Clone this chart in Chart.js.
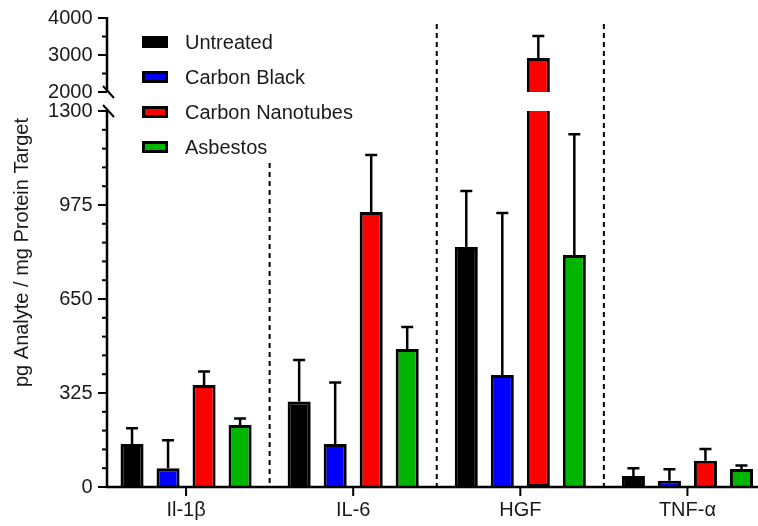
<!DOCTYPE html>
<html>
<head>
<meta charset="utf-8">
<script src="https://cdn.jsdelivr.net/npm/chart.js@4"></script>
<style>
  html, body { margin: 0; padding: 0; background: #fff; overflow: hidden; }
  #wrap { width: 771px; height: 526px; }
</style>
</head>
<body>
<div id="wrap"><canvas id="chart"></canvas></div>
<script>
const categories = ["Il-1\u03b2", "IL-6", "HGF", "TNF-\u03b1"];
const seriesNames = ["Untreated", "Carbon Black", "Carbon Nanotubes", "Asbestos"];

// means and upper SD
const untreated = [149, 296, 830, 38];
const untreatedErr = [54, 143, 193, 27];
const carbonBlack = [65, 149, 387, 22];
const carbonBlackErr = [97, 212, 560, 39];
const nanotubes = [353, 951, 2919, 91];
const nanotubesErr = [46, 197, 595, 40];
const asbestos = [214, 477, 802, 62];
const asbestosErr = [23, 76, 418, 12];

const lowTicks = [0, 325, 650, 975, 1300];
const highTicks = [2000, 3000, 4000];
const lowMinorStep = 65;
const highMinorStep = 500;

const lowMax = 1300, highMin = 2000, highMax = 4000;
const colors = ["#000000", "#0000ff", "#ff0000", "#00b400"];

// layout of the broken axis (px)
const highPx = 74, gapPx = 19, lowPx = 376;
const axisInset = 4.5; // y axis line sits a little right of the category band
const font = { family: "'Liberation Sans', Arial, sans-serif", size: 20 };
const tickFont = { family: font.family, size: 20, lineHeight: 0.8 };
const textColor = "#1a1a1a";

const seriesValues = [untreated, carbonBlack, nanotubes, asbestos];
const seriesErr = [untreatedErr, carbonBlackErr, nanotubesErr, asbestosErr];

const datasets = seriesValues.map((vals, d) => ({
  label: seriesNames[d],
  data: vals.map(v => Math.min(v, lowMax)),
  yAxisID: "yLow",
  stack: "s" + d,
  backgroundColor: colors[d],
  borderColor: "#000",
  borderWidth: 3,
  borderSkipped: vals.map(v => v > lowMax ? "top" : "start"),
}));
// upper piece of bars that run past the break
seriesValues.forEach((vals, d) => {
  if (!vals.some(v => v > lowMax)) return;
  datasets.push({
    label: seriesNames[d] + " (upper)",
    data: vals.map(v => v > lowMax ? [highMin, v] : null),
    yAxisID: "yHigh",
    stack: "s" + d,
    backgroundColor: colors[d],
    borderColor: "#000",
    borderWidth: 3,
    borderSkipped: "bottom",
  });
});

const separatorTop = [
  { axis: "yLow", value: 1120 },
  { axis: "yHigh", value: 3840 },
  { axis: "yHigh", value: 3840 },
];

const separators = {
  id: "separators",
  beforeDatasetsDraw(chart) {
    const { ctx, scales } = chart;
    const x = scales.x;
    ctx.save();
    ctx.strokeStyle = "#000";
    ctx.lineWidth = 2;
    ctx.setLineDash([5, 4]);
    for (let i = 0; i < categories.length - 1; i++) {
      const px = (x.getPixelForValue(i) + x.getPixelForValue(i + 1)) / 2;
      const t = separatorTop[i];
      ctx.beginPath();
      ctx.moveTo(px, scales[t.axis].getPixelForValue(t.value));
      ctx.lineTo(px, scales.yLow.getPixelForValue(0));
      ctx.stroke();
    }
    ctx.restore();
  }
};

const errorBars = {
  id: "errorBars",
  afterDatasetsDraw(chart) {
    const { ctx, scales } = chart;
    ctx.save();
    ctx.strokeStyle = "#000";
    ctx.lineWidth = 2.5;
    seriesValues.forEach((vals, d) => {
      const meta = chart.getDatasetMeta(d);
      vals.forEach((v, i) => {
        const s = v > lowMax ? scales.yHigh : scales.yLow;
        const x = meta.data[i].x;
        const y0 = s.getPixelForValue(v);
        const y1 = s.getPixelForValue(v + seriesErr[d][i]);
        ctx.beginPath();
        ctx.moveTo(x, y0);
        ctx.lineTo(x, y1);
        ctx.moveTo(x - 6, y1);
        ctx.lineTo(x + 6, y1);
        ctx.stroke();
      });
    });
    ctx.restore();
  }
};

const axes = {
  id: "axes",
  afterDraw(chart) {
    const { ctx, scales, chartArea } = chart;
    const lo = scales.yLow, hi = scales.yHigh, x = scales.x;
    const ax = chartArea.left + axisInset;
    const base = lo.getPixelForValue(0);
    ctx.save();
    ctx.strokeStyle = "#000";
    ctx.lineCap = "butt";

    // axis lines
    ctx.lineWidth = 2.5;
    ctx.beginPath();
    ctx.moveTo(ax, hi.getPixelForValue(highMax) - 1);
    ctx.lineTo(ax, hi.getPixelForValue(highMin));
    ctx.moveTo(ax, lo.getPixelForValue(lowMax));
    ctx.lineTo(ax, base);
    ctx.moveTo(ax - 1, base);
    ctx.lineTo(chartArea.right, base);
    ctx.stroke();

    // break marks
    ctx.lineWidth = 2;
    [hi.getPixelForValue(highMin), lo.getPixelForValue(lowMax)].forEach(py => {
      ctx.beginPath();
      ctx.moveTo(ax - 4, py - 6);
      ctx.lineTo(ax + 7, py + 6);
      ctx.stroke();
    });

    // y ticks
    const tick = (s, v, len) => {
      const py = s.getPixelForValue(v);
      ctx.beginPath();
      ctx.moveTo(ax - len, py);
      ctx.lineTo(ax, py);
      ctx.stroke();
    };
    for (let v = 0; v <= lowMax; v += lowMinorStep) {
      tick(lo, v, lowTicks.includes(v) ? 9 : 5);
    }
    for (let v = highMin; v <= highMax; v += highMinorStep) {
      tick(hi, v, highTicks.includes(v) ? 9 : 5);
    }

    // x ticks
    categories.forEach((c, i) => {
      const px = x.getPixelForValue(i);
      ctx.beginPath();
      ctx.moveTo(px, base);
      ctx.lineTo(px, base + 9);
      ctx.stroke();
    });

    // y title
    ctx.fillStyle = textColor;
    ctx.font = font.size + "px " + font.family;
    ctx.textAlign = "center";
    ctx.textBaseline = "middle";
    ctx.translate(22, (chartArea.top + chartArea.bottom) / 2);
    ctx.rotate(-Math.PI / 2);
    ctx.fillText("pg Analyte / mg Protein Target", 0, 0);
    ctx.restore();
  }
};

const legendBoxes = {
  id: "legendBoxes",
  afterDraw(chart) {
    const { ctx, chartArea } = chart;
    const bx = chartArea.left + axisInset + 35;
    ctx.save();
    ctx.font = font.size + "px " + font.family;
    ctx.textBaseline = "middle";
    ctx.textAlign = "left";
    seriesNames.forEach((name, d) => {
      const cy = chartArea.top + 24 + d * 35;
      ctx.fillStyle = "#000";
      ctx.fillRect(bx, cy - 6, 26, 12);
      ctx.fillStyle = colors[d];
      ctx.fillRect(bx + 3, cy - 3, 20, 6);
      ctx.fillStyle = textColor;
      ctx.fillText(name, bx + 43, cy + 1);
    });
    ctx.restore();
  }
};

const yCommon = {
  type: "linear",
  position: "left",
  stack: "y",
  stacked: false,
  grid: { display: false, drawTicks: false },
  border: { display: false },
  ticks: { padding: 10, font: tickFont, color: textColor, autoSkip: false, callback: v => String(v) },
  afterFit: s => { s.width = 102.5; },
};

new Chart(document.getElementById("chart"), {
  type: "bar",
  data: { labels: categories, datasets: datasets },
  options: {
    responsive: true,
    maintainAspectRatio: false,
    animation: false,
    categoryPercentage: 0.862,
    barPercentage: 0.64,
    layout: { padding: { top: 10, left: 0, right: 0, bottom: 0 } },
    plugins: { legend: { display: false }, tooltip: { enabled: false } },
    scales: {
      x: {
        type: "category",
        offset: true,
        grid: { display: false, drawTicks: false },
        border: { display: false },
        ticks: { padding: 11, font: font, color: textColor, maxRotation: 0 },
        afterFit: s => { s.height = 39; },
      },
      yLow: Object.assign({}, yCommon, {
        stackWeight: lowPx,
        min: 0,
        max: lowMax,
        afterBuildTicks: s => { s.ticks = lowTicks.map(v => ({ value: v })); },
      }),
      yHigh: Object.assign({}, yCommon, {
        stackWeight: highPx + gapPx,
        min: highMin - (highMax - highMin) * gapPx / highPx,
        max: highMax,
        afterBuildTicks: s => { s.ticks = highTicks.map(v => ({ value: v })); },
      }),
    },
  },
  plugins: [separators, errorBars, axes, legendBoxes],
});
</script>
</body>
</html>
